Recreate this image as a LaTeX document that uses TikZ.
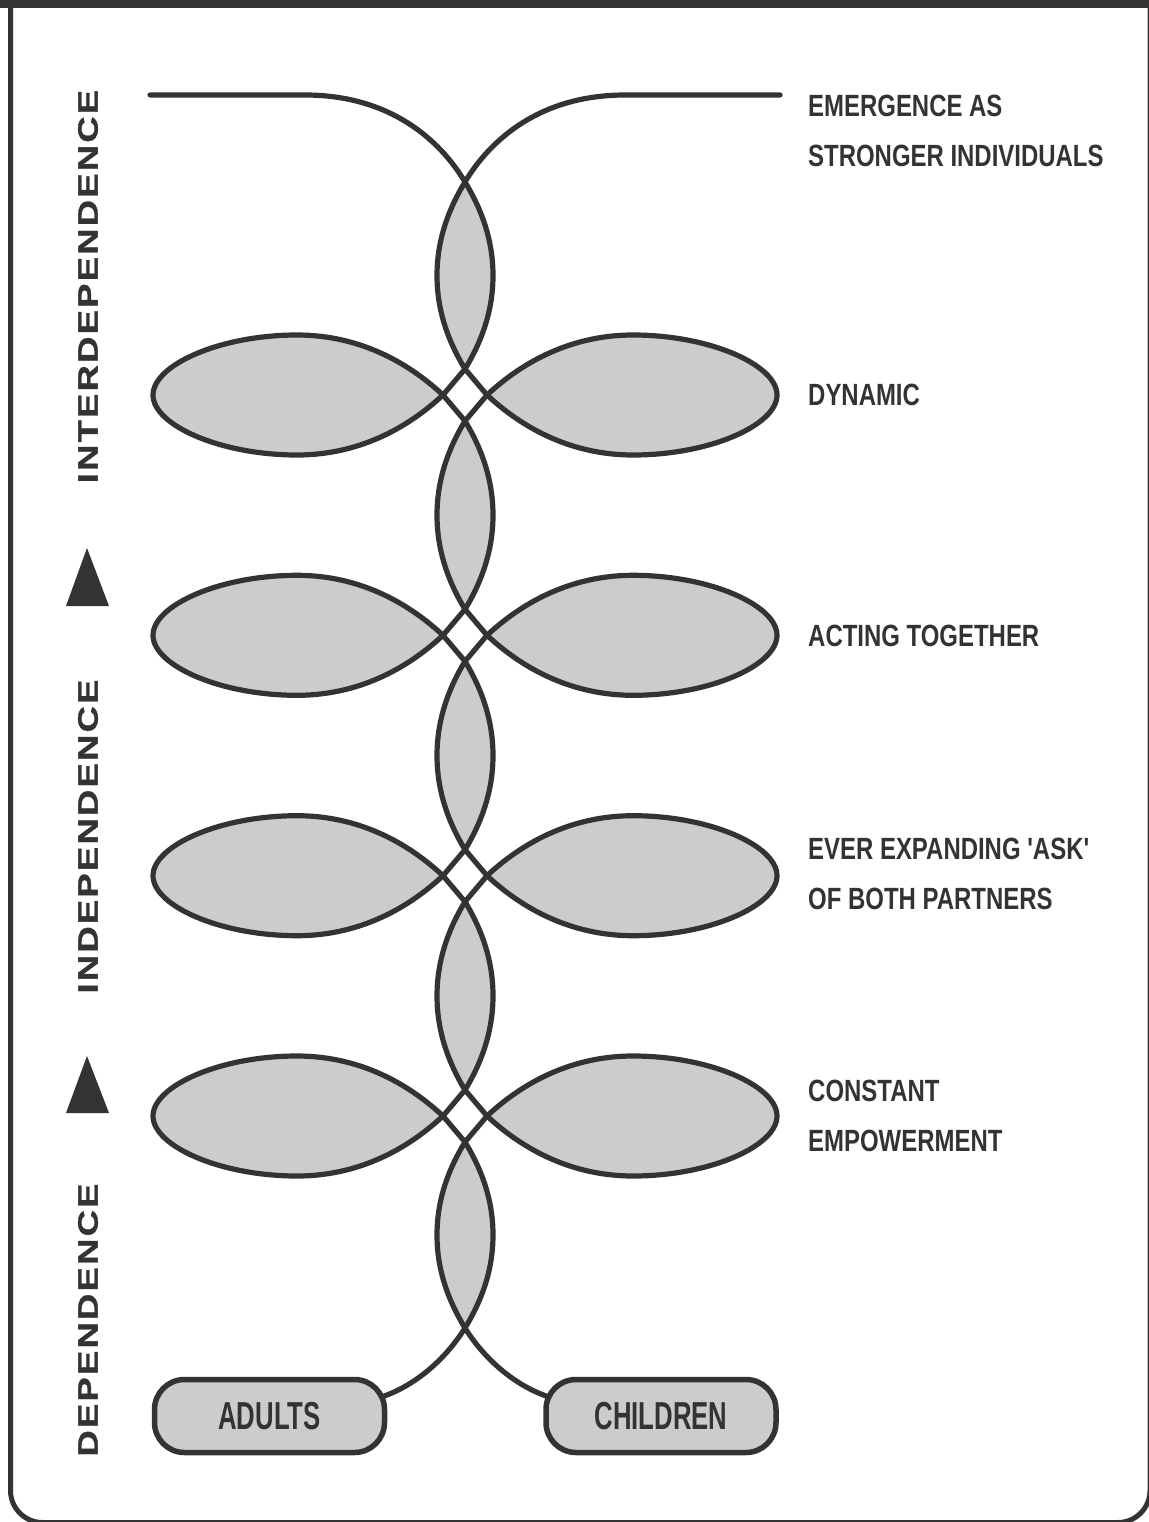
\documentclass[tikz,border=0pt]{standalone}
\usepackage{fontspec}
\newfontfamily\labfont[FakeStretch=0.78,Ligatures=TeXOff]{Liberation Sans}
\newfontfamily\boxfont[FakeStretch=0.66]{Liberation Sans}
\newfontfamily\sidefont[FakeStretch=1.3,LetterSpace=8,FakeBold=1.2]{Liberation Sans}
\definecolor{ink}{HTML}{333333}
\definecolor{leafgray}{HTML}{CCCCCC}
\tikzset{
  strand/.style={draw=ink, line width=5.2pt, line join=round, line cap=round},
  leaf/.style={strand, fill=leafgray},
  lab/.style={anchor=west, align=left, text=ink, inner sep=0pt,
    font=\labfont\bfseries\fontsize{30.7}{50}\selectfont},
  side/.style={rotate=90, text=ink, inner sep=0pt,
    font=\sidefont\bfseries\fontsize{28}{28}\selectfont},
  pill/.style={draw=ink, fill=leafgray, line width=5.5pt, rounded corners=30pt,
    minimum width=230pt, minimum height=73pt, inner sep=0pt, text=ink,
    font=\boxfont\bfseries\fontsize{39}{39}\selectfont},
}
\begin{document}
\begin{tikzpicture}[x=1pt,y=-1pt]
\useasboundingbox (0,0) rectangle (1148,1522);
\fill[white] (0,0) rectangle (1148,1522);
% frame
\draw[ink, line width=5pt, rounded corners=32pt] (10.5,-60) rectangle (1150,1522.5);
\fill[ink] (0,0) rectangle (1148,8);

% vertical lenses
\foreach \t/\b in {182/369, 421/609.3, 661.3/849.7, 901.7/1090, 1142/1328} {
  \pgfmathsetmacro\m{(\t+\b)/2}
  \path[leaf] (465,\t) .. controls (482,\t+28) and (493,\m-35) .. (493,\m)
     .. controls (493,\m+35) and (482,\b-28) .. (465,\b)
     .. controls (448,\b-28) and (437,\m+35) .. (437,\m)
     .. controls (437,\m-35) and (448,\t+28) .. cycle;
}
% leaves and crossings
\foreach \r in {395, 635.3, 875.7, 1116} {
  \foreach \sc in {1,-1} {
    \begin{scope}[xshift=465pt, xscale=\sc]
      \path[leaf] (-22,\r) .. controls (-65,\r-40) and (-115,\r-60) .. (-168,\r-60)
         .. controls (-245,\r-60) and (-312,\r-30) .. (-312,\r)
         .. controls (-312,\r+30) and (-245,\r+60) .. (-168,\r+60)
         .. controls (-115,\r+60) and (-65,\r+40) .. cycle;
    \end{scope}
  }
  \draw[strand] (443,\r) -- (465,\r-26) -- (487,\r) -- (465,\r+26) -- cycle;
}

% top strands
\coordinate (toptip) at (465,182);
\coordinate (lstart) at (150,95);
\coordinate (rstart) at (780,95);
\draw[strand] (lstart) -- (305,95) .. controls (390,95) and (440,140) .. (toptip);
\draw[strand] (rstart) -- (625,95) .. controls (540,95) and (490,140) .. (toptip);

% bottom boxes and strands
\node[pill] (adults) at (269.5,1416) {ADULTS};
\node[pill] (children) at (661,1416) {CHILDREN};
\coordinate (bottip) at (465,1328);
\draw[strand] (bottip) .. controls (445,1360) and (415,1385) .. ([yshift=20pt,xshift=-3pt]adults.east);
\draw[strand] (bottip) .. controls (485,1360) and (515,1385) .. ([yshift=20pt,xshift=3pt]children.west);

% side labels and triangles
\node[side] (interdep) at (88,286.5) {INTERDEPENDENCE};
\node[side] (indep) at (88,836.5) {INDEPENDENCE};
\node[side] (dep) at (88,1320) {DEPENDENCE};
\fill[ink] (87,548) -- (109,606) -- (66,606) -- cycle;
\fill[ink] (87,1056) -- (109,1113) -- (66,1113) -- cycle;

% right labels
\node[lab] (l1) at (808,131) {EMERGENCE AS\\STRONGER INDIVIDUALS};
\node[lab] (l2) at (808,395) {DYNAMIC};
\node[lab] (l3) at (808,636) {ACTING TOGETHER};
\node[lab] (l4) at (808,873.5) {EVER EXPANDING 'ASK'\\OF BOTH PARTNERS};
\node[lab] (l5) at (808,1116) {CONSTANT\\EMPOWERMENT};
\end{tikzpicture}
\end{document}
